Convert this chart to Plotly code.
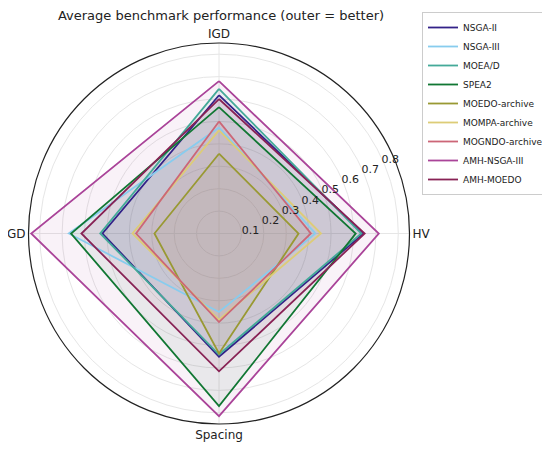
import plotly.graph_objects as go

metrics = ["IGD", "GD", "Spacing", "HV"]
algorithms = [
    "NSGA-II", "NSGA-III", "MOEA/D", "SPEA2", "MOEDO-archive",
    "MOMPA-archive", "MOGNDO-archive", "AMH-NSGA-III", "AMH-MOEDO",
]
colors = [
    "#332288", "#88CCEE", "#44AA99", "#117733", "#999933",
    "#DDCC77", "#CC6677", "#AA4499", "#882255",
]

# normalised scores per metric, order = metrics
nsga2 = [0.617, 0.52, 0.55, 0.645]
nsga3 = [0.473, 0.67, 0.35, 0.43]
moead = [0.645, 0.53, 0.54, 0.635]
spea2 = [0.564, 0.66, 0.77, 0.61]
moedo_archive = [0.356, 0.288, 0.535, 0.355]
mompa_archive = [0.46, 0.386, 0.385, 0.455]
mogndo_archive = [0.50, 0.37, 0.395, 0.41]
amh_nsga3 = [0.68, 0.838, 0.815, 0.713]
amh_moedo = [0.60, 0.614, 0.615, 0.65]

scores = [nsga2, nsga3, moead, spea2, moedo_archive,
          mompa_archive, mogndo_archive, amh_nsga3, amh_moedo]

radial_ticks = [0.1, 0.2, 0.3, 0.4, 0.5, 0.6, 0.7, 0.8]

# the page body adds an 8px margin, so the figure is drawn 8px smaller
W, H, OFF = 542, 446, 8


def fx(px):
    return (px - OFF) / W


def fy(px):
    return 1 - (px - OFF) / H


def rgba(hex_color, alpha):
    h = hex_color.lstrip("#")
    r, g, b = int(h[0:2], 16), int(h[2:4], 16), int(h[4:6], 16)
    return f"rgba({r},{g},{b},{alpha})"


theta = metrics + metrics[:1]
fig = go.Figure()

# fills first so every outline sits on top
for name, vals, col in zip(algorithms, scores, colors):
    fig.add_trace(go.Scatterpolar(
        r=vals + vals[:1], theta=theta, mode="none", fill="toself",
        fillcolor=rgba(col, 0.07), showlegend=False, hoverinfo="skip",
    ))

for name, vals, col in zip(algorithms, scores, colors):
    fig.add_trace(go.Scatterpolar(
        r=vals + vals[:1], theta=theta, mode="lines", name=name,
        line=dict(color=col, width=1.8),
    ))

fig.update_layout(
    width=W, height=H,
    margin=dict(l=0, r=0, t=0, b=0),
    paper_bgcolor="white",
    font=dict(family="DejaVu Sans", color="#222222"),
    title=dict(
        text="Average benchmark performance (outer = better)",
        x=fx(221), xanchor="center", y=fy(15), yanchor="middle",
        font=dict(size=13, color="#222222"),
    ),
    polar=dict(
        domain=dict(x=[fx(28), fx(410)], y=[fy(424), fy(43)]),
        bgcolor="white",
        angularaxis=dict(
            rotation=90, direction="counterclockwise",
            categoryorder="array", categoryarray=metrics,
            showline=True, linecolor="#222222", linewidth=1.2,
            gridcolor="#e6e6e6", ticks="",
            tickfont=dict(size=12, color="#222222"),
        ),
        radialaxis=dict(
            range=[0, 0.85], tickvals=radial_ticks,
            ticktext=[f"{v:.1f}" for v in radial_ticks],
            angle=27, tickangle=27, side="clockwise",
            showline=False, ticks="",
            gridcolor="#e6e6e6", tickfont=dict(size=11, color="#222222"),
        ),
    ),
    legend=dict(
        x=fx(422), y=fy(12), xanchor="left", yanchor="top",
        bordercolor="#cccccc", borderwidth=1, bgcolor="white",
        font=dict(size=9, color="#222222"), tracegroupgap=0,
        itemwidth=30,
    ),
)

fig.write_html("out.html")
